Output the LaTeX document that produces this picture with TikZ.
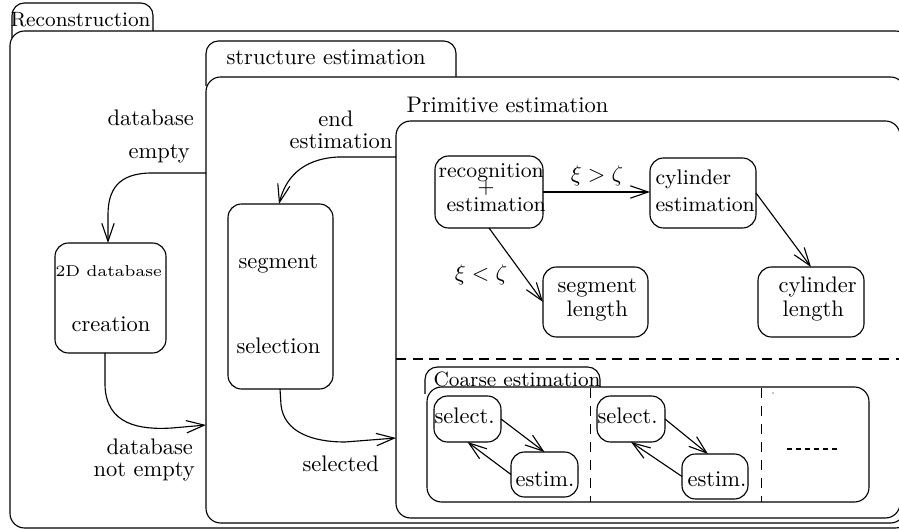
\documentclass[tikz,border=0pt]{standalone}
\usepackage{fontspec}
\usetikzlibrary{arrows.meta,fit}
\begin{document}
\begin{tikzpicture}[x=0.4444pt,y=-0.4444pt, line width=0.5pt,
  rbox/.style={draw, rounded corners=6pt, inner sep=0pt, outer sep=0pt},
  obox/.style={draw, rounded corners=6.5pt, inner sep=0pt, outer sep=0pt},
  tab/.style={draw, rounded corners=5.5pt},
  arr/.style={-{Straight Barb[length=8pt,width=5.5pt]}},
  tb/.style={inner sep=0pt, anchor=base west},
  tc/.style={inner sep=0pt, anchor=base},
  small/.style={font=\fontsize{9.4}{11}\selectfont},
  tabfont/.style={font=\fontsize{9.2}{11}\selectfont},
  sep/.style={line width=0.45pt, dash pattern=on 4.4pt off 3pt},
  vsep/.style={line width=0.45pt, dash pattern=on 4.4pt off 3.6pt}]
\useasboundingbox (0,0) rectangle (899,531);
\clip (0,0) rectangle (899,531);

% ---- Reconstruction
\draw[tab] (12,38) -- (12,3) -- (153,3) -- (153,31);
\node[obox, fit={(10,31)(910,528)}] (recon) {};
\node[tb, tabfont] (lrecon) at (10,27) {Reconstruction};

% ---- structure estimation
\draw[tab] (206,86) -- (206,41) -- (456,41) -- (456,77);
\node[obox, fit={(206,77)(905,523)}] (struct) {};
\node[tb] (lstruct) at (226,65) {structure estimation};

% ---- Primitive estimation
\node[obox, fit={(396,121)(900,518)}] (prim) {};
\node[tb] (lprim) at (406,113) {Primitive estimation};
\draw[sep] (prim.west |- 0,359) -- (prim.east |- 0,359);

\node[rbox, fit={(435,156)(543,228)}] (rec) {};
\node[tb, small] (rec1) at (438,178) {recognition};
\node[inner sep=0pt, small] (rec2) at (486,188) {+};
\node[tb, small] (rec3) at (446,212) {estimation};

\node[rbox, fit={(650,158)(756,228)}] (cylest) {};
\node[tb, small] (ce1) at (655,185) {cylinder};
\node[tb, small] (ce2) at (655,212) {estimation};

\node[rbox, fit={(543,267)(648,337)}] (seglen) {};
\node[tb] (sl1) at (557,293) {segment};
\node[tb] (sl2) at (566,317) {length};

\node[rbox, fit={(758,267)(864,337)}] (cyllen) {};
\node[tb] (cl1) at (778,293) {cylinder};
\node[tb] (cl2) at (782,317) {length};

\draw[arr] (rec.east) -- (rec.east -| cylest.west);
\node[tc] (gt) at (597,182) {$\xi > \zeta$};
\draw[arr] (rec.south) -- (seglen.west);
\node[tc] (lt) at (481,281) {$\xi < \zeta$};
\draw[arr] (cylest.east) -- (cyllen.north);

% ---- Coarse estimation
\draw[tab] (425,394) -- (425,367) -- (600,367) -- (600,387);
\node[obox, fit={(427,387)(869,502)}] (coarse) {};
\node[tb, tabfont] (lcoarse) at (433,387) {Coarse estimation};
\draw[vsep] (590,388) -- (590,502);
\draw[vsep] (761,388) -- (761,502);

\node[rbox, fit={(434,396)(501,442)}] (s1) {};
\node[tb] (s1t) at (434,424) {select.};
\node[rbox, fit={(511,452)(578,497)}] (e1) {};
\node[tb] (e1t) at (515,486) {estim.};
\node[rbox, fit={(597,396)(665,442)}] (s2) {};
\node[tb] (s2t) at (597,424) {select.};
\node[rbox, fit={(682,454)(748,499)}] (e2) {};
\node[tb] (e2t) at (687,486) {estim.};

\draw[arr] (s1.east) -- (e1.north);
\draw[arr] (e1.west) -- (s1.south);
\draw[arr] (s2.east) -- (e2.north -| 708,0);
\draw[arr] (e2.west) -- (s2.south);

\draw[line width=0.45pt, dash pattern=on 2.2pt off 1.8pt] (787,449) -- (838,449);
\fill (773,393) circle (0.6);

% ---- left part
\node[rbox, fit={(55,243)(166,353)}] (db) {};
\node[tb, font=\scriptsize] (db1) at (55,277) {\scalebox{1.09}[1]{2D database}};
\node[tb] (db2) at (71,332) {creation};

\node[rbox, fit={(228,204)(333,389)}] (segsel) {};
\node[tb] (ss1) at (238,269) {segment};
\node[tb] (ss2) at (236,354) {selection};

\coordinate (dbe) at (206,173);
\coordinate (dbn) at (206,425);
\coordinate (ee) at (396,157);
\coordinate (sel) at (396,438);

\draw[arr] (dbe) -- (152,173) .. controls (118,173) and (108,190) .. (108,215) -- (db.north -| 108,0);
\node[tb] (lde1) at (107,126) {database};
\node[tb] (lde2) at (128,159) {empty};

\draw[arr] (db.south -| 105,0) -- (105,385) .. controls (106,425) and (140,430) .. (172,428) -- (dbn);
\node[tb] (ldn1) at (106,455) {database};
\node[tb] (ldn2) at (93,477) {not empty};

\draw[arr] (ee) -- (338,157) .. controls (300,159) and (285,180) .. (segsel.north -| 279,0);
\node[tc] (lee1) at (336,127) {end};
\node[tc] (lee2) at (341,149) {estimation};

\draw[arr] (segsel.south -| 280,0) -- (281,405) .. controls (284,432) and (312,442) .. (345,442) -- (sel);
\node[tb] (lsel) at (302,472) {selected};
\end{tikzpicture}
\end{document}
